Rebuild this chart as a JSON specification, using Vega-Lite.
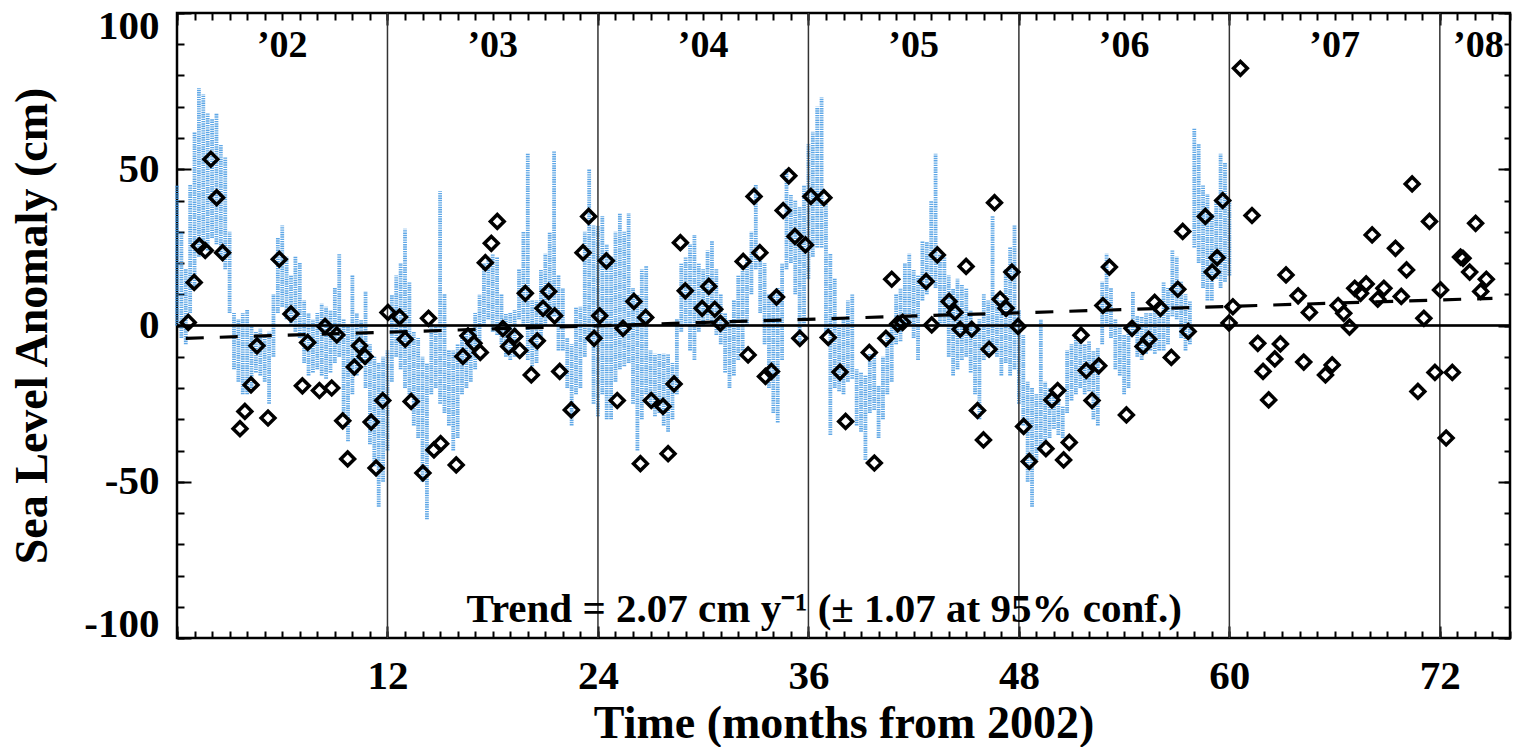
{
  "$schema": "https://vega.github.io/schema/vega-lite/v6.json",
  "width": 1333,
  "height": 625,
  "autosize": {"type": "none"},
  "padding": {"left": 177, "top": 13, "right": 14, "bottom": 109},
  "background": "white",
  "config": {
    "view": {"stroke": "black", "strokeWidth": 2.5},
    "axis": {"grid": false, "domain": false, "tickColor": "black", "tickWidth": 2, "labelColor": "black", "titleColor": "black", "labelFont": "Liberation Serif", "labelFontWeight": "bold", "titleFont": "Liberation Serif", "titleFontWeight": "bold"}
  },
  "datasets": {
    "band": [
      {"month": 0.0, "lo": 0, "hi": 45}, {"month": 0.25, "lo": -4, "hi": 30}, {"month": 0.5, "lo": -6, "hi": 18}, {"month": 0.75, "lo": 4, "hi": 45},
      {"month": 1.0, "lo": 12, "hi": 62}, {"month": 1.25, "lo": 22, "hi": 76}, {"month": 1.5, "lo": 26, "hi": 74}, {"month": 1.75, "lo": 24, "hi": 68},
      {"month": 2.0, "lo": 28, "hi": 66}, {"month": 2.25, "lo": 26, "hi": 68}, {"month": 2.5, "lo": 22, "hi": 58}, {"month": 2.75, "lo": 18, "hi": 54},
      {"month": 3.0, "lo": 4, "hi": 30}, {"month": 3.25, "lo": -14, "hi": 4}, {"month": 3.5, "lo": -18, "hi": 2}, {"month": 3.75, "lo": -22, "hi": 4},
      {"month": 4.0, "lo": -22, "hi": 5}, {"month": 4.25, "lo": -20, "hi": 0}, {"month": 4.5, "lo": -15, "hi": -2}, {"month": 4.75, "lo": -16, "hi": -1},
      {"month": 5.0, "lo": -18, "hi": -3}, {"month": 5.25, "lo": -25, "hi": -2}, {"month": 5.5, "lo": -10, "hi": 10}, {"month": 5.75, "lo": 4, "hi": 28},
      {"month": 6.0, "lo": 6, "hi": 32}, {"month": 6.25, "lo": 2, "hi": 22}, {"month": 6.5, "lo": 0, "hi": 16}, {"month": 6.75, "lo": -2, "hi": 22},
      {"month": 7.0, "lo": -4, "hi": 20}, {"month": 7.25, "lo": -12, "hi": 8}, {"month": 7.5, "lo": -16, "hi": 4}, {"month": 7.75, "lo": -15, "hi": 2},
      {"month": 8.0, "lo": -14, "hi": 4}, {"month": 8.25, "lo": -16, "hi": 7}, {"month": 8.5, "lo": -17, "hi": 6}, {"month": 8.75, "lo": -15, "hi": 5},
      {"month": 9.0, "lo": -12, "hi": 12}, {"month": 9.25, "lo": -10, "hi": 23}, {"month": 9.5, "lo": -28, "hi": 2}, {"month": 9.75, "lo": -37, "hi": 0},
      {"month": 10.0, "lo": -22, "hi": 16}, {"month": 10.25, "lo": -16, "hi": 4}, {"month": 10.5, "lo": -12, "hi": 2}, {"month": 10.75, "lo": -20, "hi": 11},
      {"month": 11.0, "lo": -38, "hi": -6}, {"month": 11.25, "lo": -45, "hi": -10}, {"month": 11.5, "lo": -58, "hi": -12}, {"month": 11.75, "lo": -50, "hi": -10},
      {"month": 12.0, "lo": -40, "hi": -8}, {"month": 12.25, "lo": -18, "hi": 10}, {"month": 12.5, "lo": -10, "hi": 16}, {"month": 12.75, "lo": -14, "hi": 20},
      {"month": 13.0, "lo": -20, "hi": 31}, {"month": 13.25, "lo": -22, "hi": 14}, {"month": 13.5, "lo": -32, "hi": -2}, {"month": 13.75, "lo": -36, "hi": -4},
      {"month": 14.0, "lo": -50, "hi": -10}, {"month": 14.25, "lo": -62, "hi": -12}, {"month": 14.5, "lo": -22, "hi": 1}, {"month": 14.75, "lo": -20, "hi": 0},
      {"month": 15.0, "lo": -25, "hi": 43}, {"month": 15.25, "lo": -28, "hi": 10}, {"month": 15.5, "lo": -32, "hi": -8}, {"month": 15.75, "lo": -40, "hi": -8},
      {"month": 16.0, "lo": -36, "hi": -6}, {"month": 16.25, "lo": -22, "hi": -3}, {"month": 16.5, "lo": -20, "hi": -2}, {"month": 16.75, "lo": -18, "hi": -2},
      {"month": 17.0, "lo": -14, "hi": 4}, {"month": 17.25, "lo": -7, "hi": 10}, {"month": 17.5, "lo": 0, "hi": 20}, {"month": 17.75, "lo": 2, "hi": 22},
      {"month": 18.0, "lo": -2, "hi": 23}, {"month": 18.25, "lo": -3, "hi": 22}, {"month": 18.5, "lo": -6, "hi": 10}, {"month": 18.75, "lo": -10, "hi": 4},
      {"month": 19.0, "lo": -11, "hi": 4}, {"month": 19.25, "lo": -10, "hi": 5}, {"month": 19.5, "lo": 2, "hi": 18}, {"month": 19.75, "lo": 0, "hi": 30},
      {"month": 20.0, "lo": -11, "hi": 55}, {"month": 20.25, "lo": -13, "hi": 8}, {"month": 20.5, "lo": -12, "hi": 8}, {"month": 20.75, "lo": -4, "hi": 18},
      {"month": 21.0, "lo": 0, "hi": 23}, {"month": 21.25, "lo": 2, "hi": 30}, {"month": 21.5, "lo": 3, "hi": 56}, {"month": 21.75, "lo": -8, "hi": 16},
      {"month": 22.0, "lo": -8, "hi": 12}, {"month": 22.25, "lo": -20, "hi": -4}, {"month": 22.5, "lo": -32, "hi": -6}, {"month": 22.75, "lo": -22, "hi": 6},
      {"month": 23.0, "lo": -20, "hi": 6}, {"month": 23.25, "lo": -10, "hi": 30}, {"month": 23.5, "lo": -5, "hi": 50}, {"month": 23.75, "lo": -25, "hi": 32},
      {"month": 24.0, "lo": -29, "hi": 32}, {"month": 24.25, "lo": -22, "hi": 35}, {"month": 24.5, "lo": -30, "hi": 26}, {"month": 24.75, "lo": -30, "hi": 22},
      {"month": 25.0, "lo": -18, "hi": 30}, {"month": 25.25, "lo": -14, "hi": 36}, {"month": 25.5, "lo": -13, "hi": 30}, {"month": 25.75, "lo": -12, "hi": 36},
      {"month": 26.0, "lo": -25, "hi": 12}, {"month": 26.25, "lo": -40, "hi": 10}, {"month": 26.5, "lo": -30, "hi": 18}, {"month": 26.75, "lo": -22, "hi": 19},
      {"month": 27.0, "lo": -26, "hi": -8}, {"month": 27.25, "lo": -29, "hi": -9}, {"month": 27.5, "lo": -28, "hi": -9}, {"month": 27.75, "lo": -32, "hi": -9},
      {"month": 28.0, "lo": -34, "hi": -9}, {"month": 28.25, "lo": -30, "hi": -12}, {"month": 28.5, "lo": -22, "hi": 2}, {"month": 28.75, "lo": -2, "hi": 20},
      {"month": 29.0, "lo": 0, "hi": 22}, {"month": 29.25, "lo": -8, "hi": 26}, {"month": 29.5, "lo": -11, "hi": 29}, {"month": 29.75, "lo": -2, "hi": 20},
      {"month": 30.0, "lo": 0, "hi": 18}, {"month": 30.25, "lo": 1, "hi": 24}, {"month": 30.5, "lo": 0, "hi": 27}, {"month": 30.75, "lo": -3, "hi": 18},
      {"month": 31.0, "lo": -6, "hi": 10}, {"month": 31.25, "lo": -15, "hi": 4}, {"month": 31.5, "lo": -20, "hi": 2}, {"month": 31.75, "lo": -16, "hi": 8},
      {"month": 32.0, "lo": -11, "hi": 16}, {"month": 32.25, "lo": -8, "hi": 18}, {"month": 32.5, "lo": 0, "hi": 21}, {"month": 32.75, "lo": 10, "hi": 30},
      {"month": 33.0, "lo": 18, "hi": 45}, {"month": 33.25, "lo": 4, "hi": 22}, {"month": 33.5, "lo": -6, "hi": 20}, {"month": 33.75, "lo": -20, "hi": 10},
      {"month": 34.0, "lo": -28, "hi": 10}, {"month": 34.25, "lo": -31, "hi": 12}, {"month": 34.5, "lo": -11, "hi": 20}, {"month": 34.75, "lo": 18, "hi": 50},
      {"month": 35.0, "lo": 20, "hi": 42}, {"month": 35.25, "lo": 10, "hi": 40}, {"month": 35.5, "lo": -6, "hi": 38}, {"month": 35.75, "lo": 0, "hi": 45},
      {"month": 36.0, "lo": 15, "hi": 58}, {"month": 36.25, "lo": 22, "hi": 62}, {"month": 36.5, "lo": 25, "hi": 70}, {"month": 36.75, "lo": 25, "hi": 73},
      {"month": 37.0, "lo": -2, "hi": 40}, {"month": 37.25, "lo": -35, "hi": 23}, {"month": 37.5, "lo": -20, "hi": 15}, {"month": 37.75, "lo": -21, "hi": 0},
      {"month": 38.0, "lo": -22, "hi": 2}, {"month": 38.25, "lo": -18, "hi": 8}, {"month": 38.5, "lo": -17, "hi": 10}, {"month": 38.75, "lo": -32, "hi": -14},
      {"month": 39.0, "lo": -34, "hi": -15}, {"month": 39.25, "lo": -43, "hi": -16}, {"month": 39.5, "lo": -28, "hi": -9}, {"month": 39.75, "lo": -27, "hi": -9},
      {"month": 40.0, "lo": -36, "hi": -19}, {"month": 40.25, "lo": -30, "hi": -10}, {"month": 40.5, "lo": -22, "hi": -3}, {"month": 40.75, "lo": -18, "hi": 0},
      {"month": 41.0, "lo": -6, "hi": 10}, {"month": 41.25, "lo": -5, "hi": 12}, {"month": 41.5, "lo": 0, "hi": 20}, {"month": 41.75, "lo": 0, "hi": 23},
      {"month": 42.0, "lo": -4, "hi": 18}, {"month": 42.25, "lo": -11, "hi": 16}, {"month": 42.5, "lo": 8, "hi": 27}, {"month": 42.75, "lo": 10, "hi": 27},
      {"month": 43.0, "lo": 15, "hi": 40}, {"month": 43.25, "lo": 12, "hi": 55}, {"month": 43.5, "lo": 0, "hi": 23}, {"month": 43.75, "lo": 0, "hi": 22},
      {"month": 44.0, "lo": -10, "hi": 16}, {"month": 44.25, "lo": -16, "hi": 12}, {"month": 44.5, "lo": -14, "hi": 15}, {"month": 44.75, "lo": -11, "hi": 13},
      {"month": 45.0, "lo": -10, "hi": 12}, {"month": 45.25, "lo": -15, "hi": 5}, {"month": 45.5, "lo": -22, "hi": 0}, {"month": 45.75, "lo": -30, "hi": 2},
      {"month": 46.0, "lo": -11, "hi": 10}, {"month": 46.25, "lo": -10, "hi": 8}, {"month": 46.5, "lo": -6, "hi": 35}, {"month": 46.75, "lo": -10, "hi": 10},
      {"month": 47.0, "lo": -16, "hi": 8}, {"month": 47.25, "lo": -12, "hi": 18}, {"month": 47.5, "lo": -16, "hi": 25}, {"month": 47.75, "lo": -14, "hi": 32},
      {"month": 48.0, "lo": -25, "hi": 5}, {"month": 48.25, "lo": -32, "hi": -3}, {"month": 48.5, "lo": -50, "hi": -18}, {"month": 48.75, "lo": -58, "hi": -20},
      {"month": 49.0, "lo": -43, "hi": -22}, {"month": 49.25, "lo": -40, "hi": 2}, {"month": 49.5, "lo": -38, "hi": -18}, {"month": 49.75, "lo": -36, "hi": -20},
      {"month": 50.0, "lo": -33, "hi": -22}, {"month": 50.25, "lo": -35, "hi": -24}, {"month": 50.5, "lo": -36, "hi": -26}, {"month": 50.75, "lo": -28, "hi": -8},
      {"month": 51.0, "lo": -24, "hi": -6}, {"month": 51.25, "lo": -22, "hi": -4}, {"month": 51.5, "lo": -20, "hi": -5}, {"month": 51.75, "lo": -22, "hi": -6},
      {"month": 52.0, "lo": -21, "hi": -5}, {"month": 52.25, "lo": -30, "hi": -8}, {"month": 52.5, "lo": -32, "hi": -7}, {"month": 52.75, "lo": -6, "hi": 14},
      {"month": 53.0, "lo": 0, "hi": 23}, {"month": 53.25, "lo": -4, "hi": 12}, {"month": 53.5, "lo": -14, "hi": 2}, {"month": 53.75, "lo": -16, "hi": 0},
      {"month": 54.0, "lo": -22, "hi": -3}, {"month": 54.25, "lo": -20, "hi": 0}, {"month": 54.5, "lo": -3, "hi": 11}, {"month": 54.75, "lo": -10, "hi": 3},
      {"month": 55.0, "lo": -11, "hi": 3}, {"month": 55.25, "lo": -9, "hi": 4}, {"month": 55.5, "lo": -8, "hi": 4}, {"month": 55.75, "lo": -9, "hi": 5},
      {"month": 56.0, "lo": -8, "hi": 4}, {"month": 56.25, "lo": -8, "hi": 14}, {"month": 56.5, "lo": -6, "hi": 12}, {"month": 56.75, "lo": 3, "hi": 24},
      {"month": 57.0, "lo": 2, "hi": 22}, {"month": 57.25, "lo": -4, "hi": 14}, {"month": 57.5, "lo": -8, "hi": 10}, {"month": 57.75, "lo": -6, "hi": 8},
      {"month": 58.0, "lo": 25, "hi": 63}, {"month": 58.25, "lo": 20, "hi": 58}, {"month": 58.5, "lo": 12, "hi": 45}, {"month": 58.75, "lo": 8, "hi": 42},
      {"month": 59.0, "lo": 8, "hi": 36}, {"month": 59.25, "lo": 15, "hi": 40}, {"month": 59.5, "lo": 12, "hi": 55}, {"month": 59.75, "lo": 14, "hi": 52},
      {"month": 60.0, "lo": 16, "hi": 40}
    ],
    "obs": [
      {"month": 0.64, "sla": 1.0}, {"month": 0.98, "sla": 13.8}, {"month": 1.27, "sla": 25.5}, {"month": 1.61, "sla": 24.0}, {"month": 1.93, "sla": 53.2},
      {"month": 2.26, "sla": 40.9}, {"month": 2.6, "sla": 23.3}, {"month": 3.59, "sla": -33.0}, {"month": 3.87, "sla": -27.5}, {"month": 4.22, "sla": -19.0},
      {"month": 4.56, "sla": -6.5}, {"month": 5.19, "sla": -29.6}, {"month": 5.83, "sla": 21.2}, {"month": 6.5, "sla": 3.7}, {"month": 7.15, "sla": -19.3},
      {"month": 7.45, "sla": -5.4}, {"month": 8.12, "sla": -20.8}, {"month": 8.44, "sla": -0.3}, {"month": 8.82, "sla": -20.0}, {"month": 9.11, "sla": -3.0},
      {"month": 9.45, "sla": -30.5}, {"month": 9.73, "sla": -42.7}, {"month": 10.11, "sla": -13.3}, {"month": 10.4, "sla": -6.5}, {"month": 10.72, "sla": -9.9},
      {"month": 11.07, "sla": -30.9}, {"month": 11.35, "sla": -45.6}, {"month": 11.73, "sla": -24.0}, {"month": 12.03, "sla": 4.2},
      {"month": 12.69, "sla": 2.7}, {"month": 13.01, "sla": -4.4}, {"month": 13.35, "sla": -24.3}, {"month": 14.02, "sla": -47.2}, {"month": 14.34, "sla": 2.3},
      {"month": 14.65, "sla": -39.8}, {"month": 15.03, "sla": -37.8}, {"month": 15.92, "sla": -44.6}, {"month": 16.3, "sla": -9.9}, {"month": 16.59, "sla": -3.3},
      {"month": 16.93, "sla": -5.7}, {"month": 17.29, "sla": -8.6}, {"month": 17.58, "sla": 20.1}, {"month": 17.92, "sla": 26.3}, {"month": 18.26, "sla": 33.3},
      {"month": 18.58, "sla": -1.0}, {"month": 18.91, "sla": -6.7}, {"month": 19.25, "sla": -3.5}, {"month": 19.54, "sla": -8.0}, {"month": 19.86, "sla": 10.3},
      {"month": 20.2, "sla": -15.8}, {"month": 20.54, "sla": -4.9}, {"month": 20.87, "sla": 5.5}, {"month": 21.19, "sla": 10.9}, {"month": 21.53, "sla": 3.1},
      {"month": 21.82, "sla": -14.7}, {"month": 22.48, "sla": -27.0}, {"month": 23.15, "sla": 23.3}, {"month": 23.47, "sla": 34.9}, {"month": 23.78, "sla": -4.1},
      {"month": 24.1, "sla": 3.1}, {"month": 24.48, "sla": 20.7},
      {"month": 25.1, "sla": -24.0}, {"month": 25.43, "sla": -0.9}, {"month": 26.05, "sla": 7.7}, {"month": 26.42, "sla": -44.2}, {"month": 26.72, "sla": 2.6},
      {"month": 27.04, "sla": -24.0}, {"month": 27.71, "sla": -25.9}, {"month": 28.0, "sla": -41.0}, {"month": 28.34, "sla": -18.7}, {"month": 28.7, "sla": 26.5},
      {"month": 28.98, "sla": 11.1}, {"month": 29.94, "sla": 5.5}, {"month": 30.32, "sla": 12.5}, {"month": 30.66, "sla": 5.2}, {"month": 30.98, "sla": 0.7},
      {"month": 32.28, "sla": 20.5}, {"month": 32.56, "sla": -9.4}, {"month": 32.9, "sla": 41.3}, {"month": 33.23, "sla": 23.3}, {"month": 33.55, "sla": -16.3},
      {"month": 33.89, "sla": -14.7}, {"month": 34.18, "sla": 9.1}, {"month": 34.56, "sla": 36.8}, {"month": 34.88, "sla": 47.9}, {"month": 35.23, "sla": 28.5},
      {"month": 35.51, "sla": -4.1}, {"month": 35.83, "sla": 25.8}, {"month": 36.14, "sla": 41.3},
      {"month": 36.88, "sla": 40.9}, {"month": 37.13, "sla": -3.8}, {"month": 37.8, "sla": -14.9}, {"month": 38.12, "sla": -30.7}, {"month": 39.47, "sla": -8.6},
      {"month": 39.76, "sla": -44.0}, {"month": 40.42, "sla": -4.1}, {"month": 40.75, "sla": 14.8}, {"month": 41.09, "sla": 0.5}, {"month": 41.37, "sla": 1.0},
      {"month": 42.71, "sla": 14.1}, {"month": 43.03, "sla": 0.2}, {"month": 43.35, "sla": 22.6}, {"month": 44.02, "sla": 7.7}, {"month": 44.36, "sla": 4.2},
      {"month": 44.65, "sla": -1.2}, {"month": 44.99, "sla": 18.9}, {"month": 45.31, "sla": -1.2}, {"month": 45.64, "sla": -27.2}, {"month": 45.98, "sla": -36.6},
      {"month": 46.3, "sla": -7.6}, {"month": 46.61, "sla": 39.3}, {"month": 46.93, "sla": 8.4}, {"month": 47.27, "sla": 5.5}, {"month": 47.6, "sla": 17.1},
      {"month": 47.95, "sla": -0.3}, {"month": 48.27, "sla": -32.3}, {"month": 48.59, "sla": -43.5},
      {"month": 49.54, "sla": -39.4}, {"month": 49.88, "sla": -23.8}, {"month": 50.21, "sla": -20.8}, {"month": 50.55, "sla": -43.0}, {"month": 50.87, "sla": -37.4},
      {"month": 51.54, "sla": -3.1}, {"month": 51.84, "sla": -14.4}, {"month": 52.17, "sla": -24.0}, {"month": 52.55, "sla": -12.9}, {"month": 52.79, "sla": 6.4},
      {"month": 53.16, "sla": 18.7}, {"month": 54.13, "sla": -28.6}, {"month": 54.45, "sla": -0.9}, {"month": 55.08, "sla": -6.7}, {"month": 55.4, "sla": -4.4},
      {"month": 55.74, "sla": 7.4}, {"month": 56.07, "sla": 5.5}, {"month": 56.69, "sla": -10.2}, {"month": 57.06, "sla": 11.6}, {"month": 57.34, "sla": 30.1},
      {"month": 57.65, "sla": -1.9}, {"month": 58.63, "sla": 34.9}, {"month": 59.02, "sla": 17.1}, {"month": 59.3, "sla": 21.7}, {"month": 59.62, "sla": 40.0},
      {"month": 59.98, "sla": 0.8}, {"month": 60.2, "sla": 6.0},
      {"month": 60.63, "sla": 82.3}, {"month": 61.29, "sla": 35.2}, {"month": 61.62, "sla": -5.7}, {"month": 61.92, "sla": -14.7}, {"month": 62.24, "sla": -23.8},
      {"month": 62.59, "sla": -10.7}, {"month": 62.91, "sla": -5.9}, {"month": 63.23, "sla": 16.2}, {"month": 63.92, "sla": 9.5}, {"month": 64.24, "sla": -11.7},
      {"month": 64.56, "sla": 4.2}, {"month": 65.48, "sla": -15.8}, {"month": 65.86, "sla": -12.6}, {"month": 66.2, "sla": 6.4}, {"month": 66.52, "sla": 3.9},
      {"month": 66.85, "sla": -0.5}, {"month": 67.15, "sla": 11.9}, {"month": 67.48, "sla": 10.3}, {"month": 67.8, "sla": 13.3}, {"month": 68.14, "sla": 29.0},
      {"month": 68.46, "sla": 8.4}, {"month": 68.81, "sla": 11.9}, {"month": 69.47, "sla": 24.7}, {"month": 69.8, "sla": 9.3}, {"month": 70.1, "sla": 17.8},
      {"month": 70.42, "sla": 45.3}, {"month": 70.75, "sla": -21.1}, {"month": 71.09, "sla": 2.3}, {"month": 71.41, "sla": 33.3}, {"month": 71.72, "sla": -15.0},
      {"month": 72.04, "sla": 11.4}, {"month": 72.36, "sla": -36.0}, {"month": 72.71, "sla": -15.0}, {"month": 73.18, "sla": 21.9}, {"month": 73.32, "sla": 21.5},
      {"month": 73.7, "sla": 17.1}, {"month": 74.04, "sla": 32.7}, {"month": 74.33, "sla": 10.9}, {"month": 74.65, "sla": 14.8}
    ],
    "trend": [{"month": 0.5, "sla": -4.1}, {"month": 75.0, "sla": 8.7}],
    "vlines": [{"month": 12}, {"month": 24}, {"month": 36}, {"month": 48}, {"month": 60}, {"month": 72}],
    "years": [
      {"month": 6, "sla": 89.5, "label": "’02"}, {"month": 18, "sla": 89.5, "label": "’03"}, {"month": 30, "sla": 89.5, "label": "’04"},
      {"month": 42, "sla": 89.5, "label": "’05"}, {"month": 54, "sla": 89.5, "label": "’06"}, {"month": 66, "sla": 89.5, "label": "’07"},
      {"month": 74.2, "sla": 89.5, "label": "’08"}
    ],
    "note": [{"month": 36.9, "sla": -91.0, "label": "Trend = 2.07 cm y⁻¹ (± 1.07 at 95% conf.)"}]
  },
  "resolve": {"axis": {"x": "independent", "y": "independent"}},
  "layer": [
    {
      "data": {"name": "band"},
      "mark": {"type": "rule", "color": "#4398e2", "strokeWidth": 3.8, "strokeDash": [1.4, 0.9], "opacity": 0.85},
      "encoding": {
        "x": {"field": "month", "type": "quantitative", "scale": {"domain": [0, 76], "nice": false, "zero": false},
          "axis": {"orient": "bottom", "values": [12, 24, 36, 48, 60, 72], "ticks": false,
            "labelExpr": "'' + datum.value",
            "labelFontSize": 41, "labelPadding": 18, "labelOverlap": false,
            "title": "Time (months from 2002)", "titleFontSize": 46, "titlePadding": 5}},
        "y": {"field": "lo", "type": "quantitative", "scale": {"domain": [-100, 100], "nice": false, "zero": false},
          "axis": {"orient": "left", "values": [-100, -50, 0, 50, 100], "ticks": false,
            "labelExpr": "'' + datum.value",
            "labelFontSize": 41, "labelPadding": 18, "labelFlush": true, "labelFlushOffset": 7, "labelOverlap": false,
            "title": "Sea Level Anomaly (cm)", "titleFontSize": 46, "titlePadding": 27}},
        "y2": {"field": "hi"}
      }
    },
    {
      "data": {"name": "vlines"},
      "mark": {"type": "rule", "color": "#333333", "strokeWidth": 1.5},
      "encoding": {"x": {"field": "month", "type": "quantitative", "axis": null}}
    },
    {
      "data": {"name": "vlines"},
      "mark": {"type": "rule", "color": "black", "strokeWidth": 1.5},
      "encoding": {"y": {"datum": 0, "type": "quantitative", "axis": null}}
    },
    {
      "data": {"name": "trend"},
      "mark": {"type": "line", "color": "black", "strokeWidth": 3.2, "strokeDash": [18, 16]},
      "encoding": {
        "x": {"field": "month", "type": "quantitative",
          "axis": {"orient": "top", "values": [0,1,2,3,4,5,6,7,8,9,10,11,12,13,14,15,16,17,18,19,20,21,22,23,24,25,26,27,28,29,30,31,32,33,34,35,36,37,38,39,40,41,42,43,44,45,46,47,48,49,50,51,52,53,54,55,56,57,58,59,60,61,62,63,64,65,66,67,68,69,70,71,72,73,74,75,76],
            "tickSize": -7, "labels": false, "title": null}},
        "y": {"field": "sla", "type": "quantitative",
          "axis": {"orient": "right", "values": [-100,-90,-80,-70,-60,-50,-40,-30,-20,-10,0,10,20,30,40,50,60,70,80,90,100],
            "tickSize": -6, "labels": false, "title": null}}
      }
    },
    {
      "data": {"name": "obs"},
      "mark": {"type": "point", "shape": "diamond", "filled": false, "color": "black", "strokeWidth": 3.5, "size": 190, "opacity": 1},
      "encoding": {
        "x": {"field": "month", "type": "quantitative",
          "axis": {"orient": "bottom", "values": [0,1,2,3,4,5,6,7,8,9,10,11,12,13,14,15,16,17,18,19,20,21,22,23,24,25,26,27,28,29,30,31,32,33,34,35,36,37,38,39,40,41,42,43,44,45,46,47,48,49,50,51,52,53,54,55,56,57,58,59,60,61,62,63,64,65,66,67,68,69,70,71,72,73,74,75,76],
            "tickSize": -7, "labels": false, "title": null}},
        "y": {"field": "sla", "type": "quantitative",
          "axis": {"orient": "left", "values": [-100,-90,-80,-70,-60,-50,-40,-30,-20,-10,0,10,20,30,40,50,60,70,80,90,100],
            "tickSize": -7, "labels": false, "title": null}}
      }
    },
    {
      "data": {"name": "years"},
      "mark": {"type": "text", "font": "Liberation Serif", "fontWeight": "bold", "fontSize": 38, "align": "center", "baseline": "middle", "color": "black"},
      "encoding": {
        "x": {"field": "month", "type": "quantitative",
          "axis": {"orient": "top", "values": [0, 12, 24, 36, 48, 60, 72], "tickSize": -12, "labels": false, "title": null}},
        "y": {"field": "sla", "type": "quantitative",
          "axis": {"orient": "right", "values": [-100, -50, 0, 50, 100], "tickSize": -12, "labels": false, "title": null}},
        "text": {"field": "label"}
      }
    },
    {
      "data": {"name": "note"},
      "mark": {"type": "text", "font": "Liberation Serif", "fontWeight": "bold", "fontSize": 41, "align": "center", "baseline": "middle", "color": "black"},
      "encoding": {
        "x": {"field": "month", "type": "quantitative",
          "axis": {"orient": "bottom", "values": [0, 12, 24, 36, 48, 60, 72], "tickSize": -12, "labels": false, "title": null}},
        "y": {"field": "sla", "type": "quantitative",
          "axis": {"orient": "left", "values": [-100, -50, 0, 50, 100], "tickSize": -14, "labels": false, "title": null}},
        "text": {"field": "label"}
      }
    }
  ]
}
